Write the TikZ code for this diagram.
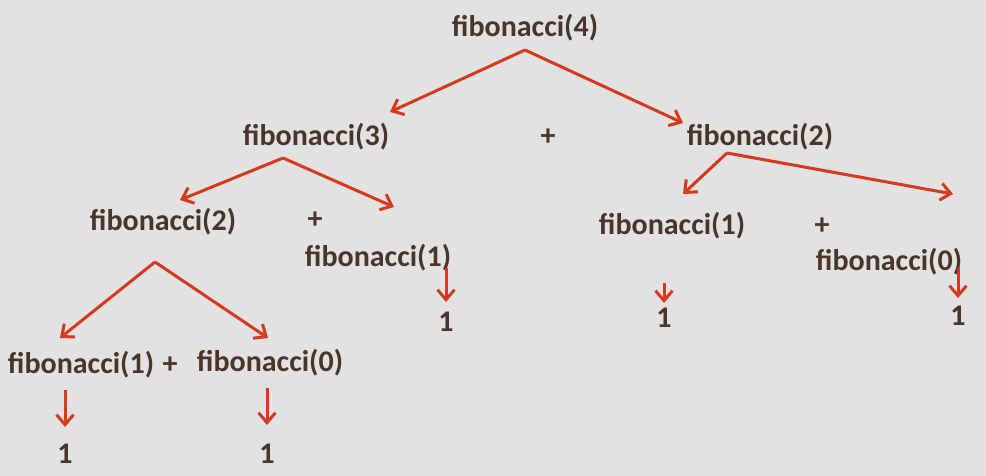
\documentclass[tikz,border=0pt]{standalone}
\usepackage{fontspec}
\setmainfont{Carlito}
\usetikzlibrary{arrows.meta}
\definecolor{bg}{HTML}{E1E2E1}
\definecolor{ink}{HTML}{4B3528}
\definecolor{arr}{HTML}{D6391B}
\begin{document}
\begin{tikzpicture}[x=1pt,y=-1pt,
  lbl/.style={inner sep=0pt, text=ink, font=\fontsize{30}{34}\selectfont\bfseries},
  call/.style={draw=arr, line width=3pt, -{Straight Barb[length=10pt,width=17pt,line width=3pt]}}]
  % canvas
  \fill[bg] (0,0) rectangle (986,476);
  \useasboundingbox (0,0) rectangle (986,476);

  % calls and results
  \node[lbl] (f4)  at (525,28)  {fibonacci(4)};
  \node[lbl] (f3)  at (316,137) {fibonacci(3)};
  \node[lbl] (p1)  at (548,137) {+};
  \node[lbl] (f2r) at (760,137) {fibonacci(2)};
  \node[lbl] (f2l) at (163,222) {fibonacci(2)};
  \node[lbl] (p2)  at (315,220) {+};
  \node[lbl] (f1a) at (378,258) {fibonacci(1)};
  \node[lbl] (r1a) at (446,322) {1};
  \node[lbl] (f1b) at (672,226) {fibonacci(1)};
  \node[lbl] (p3)  at (822,226) {+};
  \node[lbl] (f0a) at (889,262) {fibonacci(0)};
  \node[lbl] (r1b) at (664,318) {1};
  \node[lbl] (r0a) at (958,316) {1};
  \node[lbl] (f1c) at (81,365)  {fibonacci(1)};
  \node[lbl] (p4)  at (170,365) {+};
  \node[lbl] (f0b) at (270,363) {fibonacci(0)};
  \node[lbl] (r1c) at (65,454)  {1};
  \node[lbl] (r0b) at (267,454) {1};

  % branch points and arrow ends
  \coordinate (s4)  at (525,50);
  \coordinate (e3)  at (390,112);
  \coordinate (e2r) at (683,123);
  \coordinate (s3)  at (283,158);
  \coordinate (e2l) at (180,200);
  \coordinate (e1a) at (394,207);
  \coordinate (s2l) at (155,262);
  \coordinate (e1c) at (60,338);
  \coordinate (e0b) at (268,338);
  \coordinate (s2r) at (727,153);
  \coordinate (e1b) at (683,194);
  \coordinate (e0a) at (953,194);

  \draw[call] (s4) -- (e3);
  \draw[call] (s4) -- (e2r);
  \draw[call] (s3) -- (e2l);
  \draw[call] (s3) -- (e1a);
  \draw[call] (s2l) -- (e1c);
  \draw[call] (s2l) -- (e0b);
  \draw[call] (s2r) -- (e1b);
  \draw[call] (s2r) -- (e0a);

  % base cases
  \coordinate (t1a) at (446,268); \coordinate (u1a) at (446,302);
  \coordinate (t1b) at (664,283); \coordinate (u1b) at (664,303);
  \coordinate (t0a) at (958,268); \coordinate (u0a) at (958,298);
  \coordinate (t1c) at (65,390);  \coordinate (u1c) at (65,427);
  \coordinate (t0b) at (267,388); \coordinate (u0b) at (267,425);
  \draw[call] (t1a) -- (u1a);
  \draw[call] (t1b) -- (u1b);
  \draw[call] (t0a) -- (u0a);
  \draw[call] (t1c) -- (u1c);
  \draw[call] (t0b) -- (u0b);
\end{tikzpicture}
\end{document}
